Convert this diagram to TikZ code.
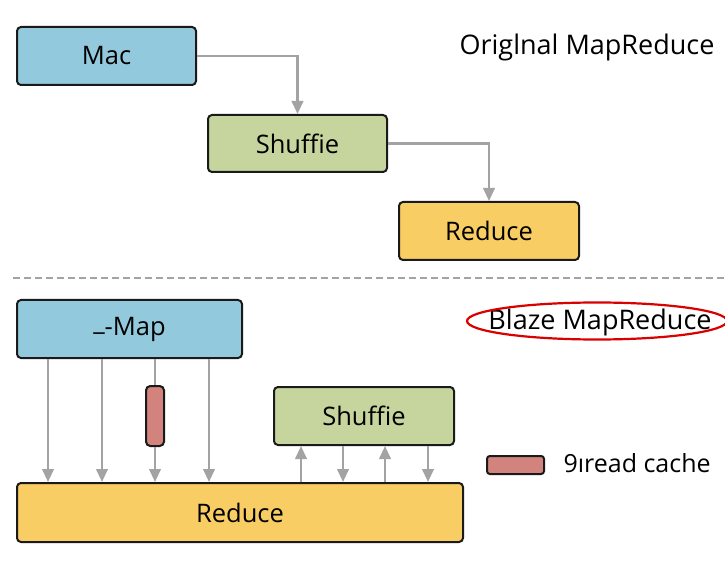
\documentclass[tikz,border=0pt]{standalone}
\usepackage{fontspec}
\setmainfont{Open Sans}
\usetikzlibrary{shapes,arrows.meta}
\usetikzlibrary{positioning,calc}

\definecolor{mapblue}{HTML}{93C9DC}
\definecolor{shufgreen}{HTML}{C6D59D}
\definecolor{redyellow}{HTML}{F8CD63}
\definecolor{cachered}{HTML}{D3837E}
\definecolor{flowgray}{HTML}{A3A3A3}
\definecolor{edgedark}{HTML}{1A1A1A}

\tikzset{
	box/.style={rectangle, draw=edgedark, line width=2pt, rounded corners=.14cm, font=\fontsize{25.5}{30}\selectfont, inner sep=0pt},
	flow/.style={draw=flowgray, line width=2.4pt, -{Triangle[length=13pt,width=11.5pt]}},
	link/.style={draw=flowgray, line width=2.4pt}
}

\begin{document}
\begin{tikzpicture}[x=1pt,y=1pt]
				\useasboundingbox (0,0) rectangle (725,560);
				% Original MapReduce
				\node[box, fill=mapblue, minimum width=179pt, minimum height=58pt] (mac) at (106.5,504) {Mac};
				\node[box, fill=shufgreen, minimum width=179pt, minimum height=57pt, below right=28pt and 10pt of mac] (shuffle) {Shuffie};
				\node[box, fill=redyellow, minimum width=180pt, minimum height=58pt, below right=28pt and 10pt of shuffle] (reduce) {Reduce};
				\node[font=\fontsize{27}{32}\selectfont] (titleA) at (587,513) {Origlnal MapReduce};
				\draw[flow] (mac.east) -| (shuffle.north);
				\draw[flow] (shuffle.east) -| (reduce.north);
				% separator
				\draw[flowgray, line width=2pt, dash pattern=on 7pt off 4pt] (13,282) -- (725,282);
				% Blaze MapReduce
				\node[box, fill=mapblue, minimum width=225pt, minimum height=58pt] (map) at (129.5,231) {\raisebox{.18em}{\_}-Map};
				\node[box, fill=redyellow, minimum width=446pt, minimum height=59pt] (reduceB) at (240,47.5) {Reduce};
				\node[box, fill=shufgreen, minimum width=180pt, minimum height=58pt] (shuffleB) at (364,144) {Shuffie};
				\node[box, fill=cachered, minimum width=18pt, minimum height=60pt, rounded corners=.15cm] (cache) at (155,144) {};
				\node[font=\fontsize{27}{32}\selectfont] (titleB) at (600,238) {Blaze MapReduce};
				\draw[red!85!black, line width=2.2pt] (titleB.center) ++(-3,1) ellipse (130pt and 18.5pt);
				% legend
				\node[box, fill=cachered, minimum width=57pt, minimum height=18pt, rounded corners=.1cm] (legend) at (515.5,95) {};
				\node[font=\fontsize{25}{30}\selectfont, anchor=west] (legendtext) at (560,97) {9ıread cache};
				% map to reduce
				\foreach \x in {48,102,209}
					\draw[flow] (map.south -| \x,0) -- (reduceB.north -| \x,0);
				\draw[link] (map.south -| cache) -- (cache.north);
				\draw[flow] (cache.south) -- (reduceB.north -| cache);
				% shuffle and reduce
				\foreach \x in {301,385}
					\draw[flow] (reduceB.north -| \x,0) -- (shuffleB.south -| \x,0);
				\foreach \x in {343,428}
					\draw[flow] (shuffleB.south -| \x,0) -- (reduceB.north -| \x,0);
			\end{tikzpicture}
\end{document}
